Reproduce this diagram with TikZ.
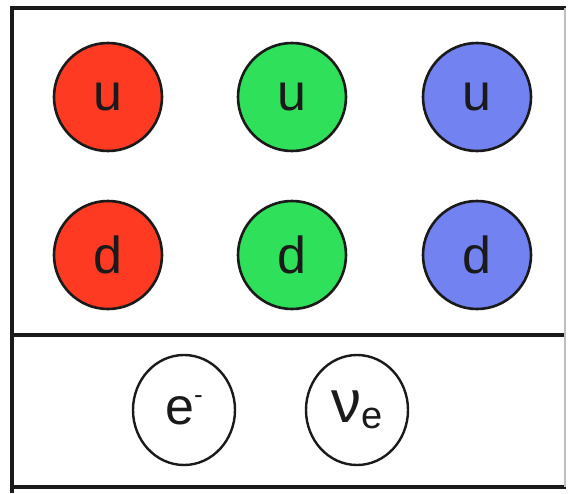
\documentclass[tikz,border=0pt]{standalone}
\usepackage{fontspec}
\setmainfont{Liberation Sans}
\usetikzlibrary{shapes.geometric}
\definecolor{qred}{HTML}{FF3A22}
\definecolor{qgreen}{HTML}{2EE05A}
\definecolor{qblue}{HTML}{7282F0}
\definecolor{ink}{HTML}{1A1A1A}
\tikzset{
  quark/.style={circle, draw=ink, line width=2.6pt, minimum size=108pt, inner sep=0pt, text=ink, font=\fontsize{52}{52}\selectfont},
  lepton/.style={ellipse, draw=ink, line width=2.4pt, minimum width=102pt, minimum height=110pt, inner sep=0pt, fill=white, text=ink, font=\fontsize{52}{52}\selectfont},
  frameline/.style={draw=ink, line width=4pt}
}
\begin{document}
\begin{tikzpicture}[x=1pt,y=-1pt]
\useasboundingbox (0,0) rectangle (568,493);
\fill[white] (0,0) rectangle (568,493);
% frame
\draw[frameline] (12,493) -- (12,8) -- (566,8);
\draw[frameline] (12,335) -- (566,335);
\draw[frameline] (12,487) -- (566,487);
\draw[draw=black!25, line width=1.2pt] (565,8) -- (565,487);
% quarks
\node[quark, fill=qred] (ur) at (108,97) {u};
\node[quark, fill=qgreen] (ug) at (292,97) {u};
\node[quark, fill=qblue] (ub) at (477,97) {u};
\node[quark, fill=qred] (dr) at (108,255) {d};
\node[quark, fill=qgreen] (dg) at (292,255) {d};
\node[quark, fill=qblue] (db) at (477,255) {d};
% leptons
\node[lepton] (el) at (184,410) {e\raisebox{0.40em}{\fontsize{26}{26}\selectfont -}};
\node[lepton] (nu) at (357,410) {{\fontsize{60}{60}\selectfont ν}\raisebox{-0.12em}{\fontsize{38}{38}\selectfont e}};
\end{tikzpicture}
\end{document}
